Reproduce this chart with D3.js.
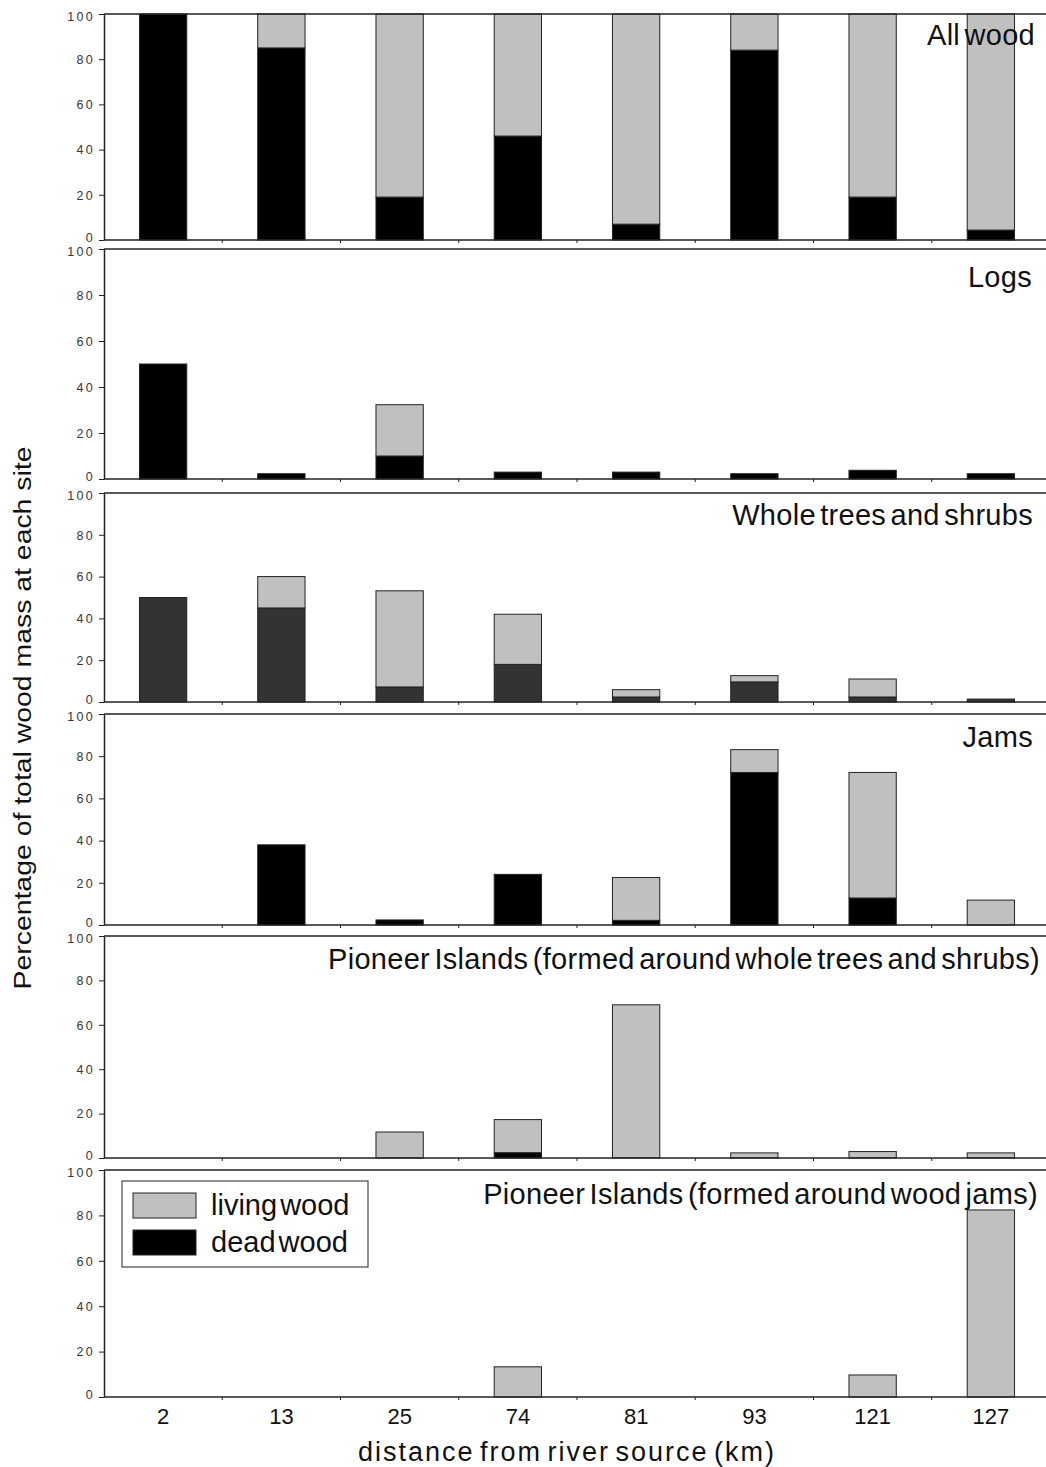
<!doctype html>
<html>
<head>
  <meta charset="utf8">
  <title>wood mass by site</title>
  <style>
    body {
      margin: 0;
      padding: 0;
      background: #fff;
    }
    svg text {
      font-family: "Liberation Sans", Arial, sans-serif;
    }
  </style>
</head>
<body>
  <svg id="chart"></svg>

  <script src="https://d3js.org/d3.v7.min.js"></script>
  <script>
    // distance from river source (km), one bar per site
    const sites = ['2', '13', '25', '74', '81', '93', '121', '127']

    const panelNames = [
      'All wood',
      'Logs',
      'Whole trees and shrubs',
      'Jams',
      'Pioneer Islands (formed around whole trees and shrubs)',
      'Pioneer Islands (formed around wood jams)'
    ]

    // percentage of total wood mass, one row per panel
    const deadWood = [
      [100, 85, 19, 46, 7, 84, 19, 4.4],
      [50, 2.3, 10, 3, 3, 2.3, 3.8, 2.3],
      [50, 45, 7.2, 18, 2.4, 9.6, 2.4, 1.4],
      [0, 38, 2.4, 24, 2.2, 72.3, 12.8, 0],
      [0, 0, 0, 2.4, 0, 0, 0, 0],
      [0, 0, 0, 0, 0, 0, 0, 0]
    ]

    const livingWood = [
      [0, 15, 81, 54, 93, 16, 81, 95.6],
      [0, 0, 22.3, 0, 0, 0, 0, 0],
      [0, 15, 46, 24, 3.5, 3, 8.6, 0],
      [0, 0, 0, 0, 20.3, 10.8, 59.5, 11.8],
      [0, 0, 11.7, 14.9, 69, 2.3, 2.9, 2.3],
      [0, 0, 0, 13.3, 0, 0, 9.7, 82.4]
    ]

    const yTicks = [0, 20, 40, 60, 80, 100]

    const width = 1046
    const height = 1467
    const left = 104
    const right = 1046

    // pixel extent of each panel (value 100 at top, 0 at bottom)
    const panelTop = [14, 249, 493, 714, 936, 1170]
    const panelBottom = [240, 479, 702, 925, 1158, 1397]
    const titleOffset = [31, 38, 32, 33, 33, 34]
    const titleRight = [1035, 1032, 1033, 1033, 1040, 1038]

    const lineColor = '#222'
    const livingColor = '#c0c0c0'

    const svg = d3.select('#chart')
      .attr('width', width)
      .attr('height', height)

    const x = d3.scaleBand()
      .domain(sites)
      .range([left, 1050])
      .paddingInner(0.6)
      .paddingOuter(0.3)

    const boundaries = sites.slice(1).map(s => x(s) - x.step() * x.paddingInner() / 2)

    panelNames.forEach((name, i) => {
      const g = svg.append('g')
      const y = d3.scaleLinear()
        .domain([0, 100])
        .range([panelBottom[i], panelTop[i]])

      const rows = sites.map((s, j) => ({ site: s, dead: deadWood[i][j], living: livingWood[i][j] }))
      const series = d3.stack().keys(['dead', 'living'])(rows)
      const deadColor = i === 2 ? '#333' : '#000'

      series.forEach(layer => {
        g.append('g')
          .selectAll('rect')
          .data(layer.filter(d => d[1] - d[0] > 0))
          .join('rect')
          .attr('x', d => x(d.data.site))
          .attr('width', x.bandwidth())
          .attr('y', d => y(d[1]))
          .attr('height', d => y(d[0]) - y(d[1]))
          .style('fill', layer.key === 'dead' ? deadColor : livingColor)
          .style('stroke', lineColor)
          .style('stroke-width', 1)
      })

      // top border of the panel
      g.append('line')
        .attr('x1', left).attr('x2', right)
        .attr('y1', panelTop[i]).attr('y2', panelTop[i])
        .style('stroke', lineColor)
        .style('stroke-width', 1.5)

      // baseline with small ticks between sites
      g.append('line')
        .attr('x1', left).attr('x2', right)
        .attr('y1', panelBottom[i]).attr('y2', panelBottom[i])
        .style('stroke', lineColor)
        .style('stroke-width', 1.5)

      g.append('g')
        .selectAll('line')
        .data(boundaries)
        .join('line')
        .attr('x1', d => d).attr('x2', d => d)
        .attr('y1', panelBottom[i]).attr('y2', panelBottom[i] + 3)
        .style('stroke', lineColor)

      const yAxis = g.append('g')
        .attr('transform', `translate(${left},0)`)
        .call(d3.axisLeft(y).tickValues(yTicks).tickSize(5).tickSizeOuter(0).tickPadding(4))

      yAxis.select('.domain').style('stroke', lineColor).style('stroke-width', 1.5)
      yAxis.selectAll('.tick line').style('stroke', lineColor)
      yAxis.selectAll('.tick text')
        .style('font-size', '12.5px')
        .style('letter-spacing', '2.3px')
        .style('fill', '#3a3340')
        .attr('dy', d => d === 0 ? '0.1em' : d === 100 ? '0.55em' : '0.35em')

      g.append('text')
        .attr('x', titleRight[i])
        .attr('y', panelTop[i] + titleOffset[i])
        .style('text-anchor', 'end')
        .style('font-size', '29px')
        .style('letter-spacing', '0.3px')
        .style('word-spacing', '-4px')
        .style('fill', '#111')
        .text(name)

      if (i === panelNames.length - 1) {
        const xAxis = g.append('g')
          .attr('transform', `translate(0,${panelBottom[i]})`)
          .call(d3.axisBottom(x).tickSize(0).tickPadding(10))
        xAxis.select('.domain').remove()
        xAxis.selectAll('.tick text')
          .style('font-size', '22px')
          .style('fill', '#111')
          .attr('dy', '0.75em')
      }
    })

    // legend
    const legend = svg.append('g')
    legend.append('rect')
      .attr('x', 122).attr('y', 1181)
      .attr('width', 246).attr('height', 86)
      .style('fill', '#fff')
      .style('stroke', lineColor)

    const legendItems = [
      { label: 'living wood', color: livingColor },
      { label: 'dead wood', color: '#000' }
    ]

    legendItems.forEach((d, k) => {
      legend.append('rect')
        .attr('x', 133).attr('y', 1193 + k * 37)
        .attr('width', 63).attr('height', 25)
        .style('fill', d.color)
        .style('stroke', lineColor)
      legend.append('text')
        .attr('x', 211).attr('y', 1215 + k * 37)
        .style('font-size', '29px')
        .style('word-spacing', '-5px')
        .style('fill', '#111')
        .text(d.label)
    })

    // axis titles
    svg.append('text')
      .attr('x', 567)
      .attr('y', 1461)
      .style('text-anchor', 'middle')
      .style('font-size', '27px')
      .style('letter-spacing', '2px')
      .style('word-spacing', '-4px')
      .style('fill', '#111')
      .text('distance from river source (km)')

    svg.append('text')
      .attr('transform', 'translate(31,718) rotate(-90)')
      .style('text-anchor', 'middle')
      .style('font-size', '23px')
      .style('fill', '#111')
      .attr('textLength', 543)
      .attr('lengthAdjust', 'spacingAndGlyphs')
      .text('Percentage of total wood mass at each site')
  </script>
</body>
</html>
